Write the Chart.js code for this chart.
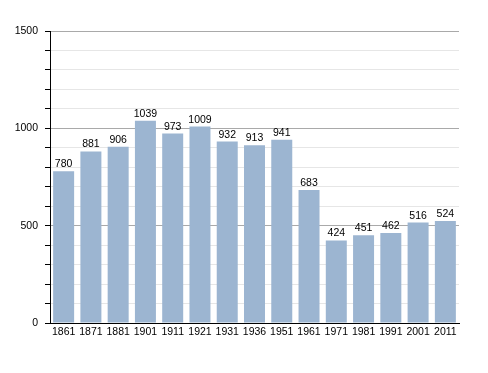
<!DOCTYPE html>
<html>
<head>
<meta charset="utf-8">
<script src="https://cdn.jsdelivr.net/npm/chart.js@4/dist/chart.umd.min.js"></script>
<style>
  html,body{margin:0;padding:0;background:#fff;}
  #wrap{width:488px;height:373px;position:relative;}
</style>
</head>
<body>
<div id="wrap"><canvas id="chart"></canvas></div>
<script>
const years = ["1861","1871","1881","1901","1911","1921","1931","1936","1951","1961","1971","1981","1991","2001","2011"];
const population = [780,881,906,1039,973,1009,932,913,941,683,424,451,462,516,524];
const yMax = 1500;
const yStep = 100;
const yLabelEvery = 500;

const FONT = '"Liberation Sans", Arial, sans-serif';

// numbers above the bars
const valueLabels = {
  id:"valueLabels",
  afterDatasetsDraw(chart){
    const ctx = chart.ctx;
    const meta = chart.getDatasetMeta(0);
    ctx.save();
    ctx.font = "10.5px " + FONT;
    ctx.fillStyle = "#000";
    ctx.textAlign = "center";
    ctx.textBaseline = "alphabetic";
    meta.data.forEach((bar,i)=>{
      ctx.fillText(String(population[i]), bar.x, bar.y - 4);
    });
    ctx.restore();
  }
};

new Chart(document.getElementById("chart"),{
  type:"bar",
  data:{
    labels:years,
    datasets:[{
      data:population,
      backgroundColor:"#9cb5d1",
      borderWidth:0,
      categoryPercentage:1,
      barPercentage:0.77
    }]
  },
  options:{
    responsive:true,
    maintainAspectRatio:false,
    animation:false,
    layout:{padding:{top:31,right:29,bottom:0,left:0}},
    plugins:{legend:{display:false}, tooltip:{enabled:false}},
    scales:{
      x:{
        grid:{display:false,drawTicks:false},
        border:{display:true,color:"#000",width:1},
        ticks:{color:"#000",font:{family:FONT,size:10.5},padding:3,maxRotation:0,autoSkip:false},
        afterFit(s){ s.height = 50; }
      },
      y:{
        min:0,
        max:yMax,
        border:{display:true,color:"#000",width:1},
        grid:{
          color:c=>(c.tick && c.tick.value % yLabelEvery === 0) ? "#a9a9a9" : "#e6e6e6",
          tickColor:"#000",
          tickLength:5,
          drawTicks:true
        },
        ticks:{
          stepSize:yStep,
          maxTicksLimit:20,
          autoSkip:false,
          color:"#000",
          font:{family:FONT,size:10.5},
          padding:7,
          callback:v=>(v % yLabelEvery === 0) ? String(v) : ""
        },
        afterFit(s){ s.width = 50; }
      }
    }
  },
  plugins:[valueLabels]
});
</script>
</body>
</html>
